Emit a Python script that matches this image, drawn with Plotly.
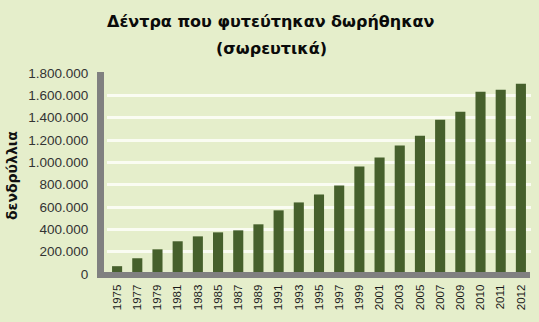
import plotly.graph_objects as go

years = ["1975", "1977", "1979", "1981", "1983", "1985", "1987", "1989", "1991", "1993",
         "1995", "1997", "1999", "2001", "2003", "2005", "2007", "2009", "2010", "2011", "2012"]
trees = [70000, 141000, 221000, 293000, 337000, 373000, 391000, 445000, 570000, 641000,
         712000, 793000, 962000, 1043000, 1150000, 1239000, 1382000, 1454000, 1632000, 1650000, 1704000]
y_ticks = list(range(0, 1800001, 200000))

title_line1 = "Δέντρα που φυτεύτηκαν δωρήθηκαν"
title_line2 = "(σωρευτικά)"
y_title = "δενδρύλλια"

BG = "#E5EECB"
BAR = "#46602C"
AXIS = "#808080"
GRID = "#FAFCF2"
TRANSP = "rgba(0,0,0,0)"

W, H = 539, 322
L, R, T, B = 107, 8, 73, 48
PW, PH = W - L - R, H - T - B


def px_x(x):
    return (x - L) / PW


def px_y(y):
    return (H - B - y) / PH


fig = go.Figure(go.Bar(x=years, y=trees, marker=dict(color=BAR, line=dict(width=0))))

title_font = dict(family="DejaVu Sans, sans-serif", size=16, color="#0A0A0A", weight="bold")

fig.update_layout(
    width=W, height=H,
    paper_bgcolor=BG, plot_bgcolor=BG,
    margin=dict(l=L, r=R, t=T, b=B),
    bargap=0.5,
    separators=",.",
    showlegend=False,
    annotations=[
        dict(text=title_line1, xref="paper", yref="paper", x=px_x(271), y=px_y(22),
             xanchor="center", yanchor="middle", showarrow=False, font=title_font),
        dict(text=title_line2, xref="paper", yref="paper", x=px_x(271), y=px_y(48),
             xanchor="center", yanchor="middle", showarrow=False, font=title_font),
        dict(text=y_title, xref="paper", yref="paper", x=px_x(12), y=px_y(176),
             xanchor="center", yanchor="middle", showarrow=False, textangle=-90,
             font=dict(family="DejaVu Sans, sans-serif", size=14, color="#111111", weight="bold")),
    ],
    shapes=[
        dict(type="rect", xref="paper", yref="paper", x0=px_x(97), x1=px_x(104),
             y0=px_y(278), y1=px_y(72), fillcolor=AXIS, line=dict(width=0), layer="above"),
        dict(type="rect", xref="paper", yref="paper", x0=px_x(97), x1=px_x(530),
             y0=px_y(278), y1=px_y(272), fillcolor=AXIS, line=dict(width=0), layer="above"),
    ],
)
fig.update_xaxes(type="category", tickangle=-90,
                 tickfont=dict(family="Liberation Sans, Arial, sans-serif", size=11.5, color="#1A1A1A"),
                 showline=False, ticks="outside", ticklen=5, tickcolor=TRANSP, showgrid=False)
fig.update_yaxes(range=[0, 1800000], tickvals=y_ticks, tickformat=",d",
                 tickfont=dict(family="Liberation Sans, Arial, sans-serif", size=13.5, color="#333333"),
                 showline=False, ticks="outside", ticklen=15, tickcolor=TRANSP, showgrid=True,
                 gridcolor=GRID, gridwidth=3, zeroline=False)

fig.write_html("out.html")
